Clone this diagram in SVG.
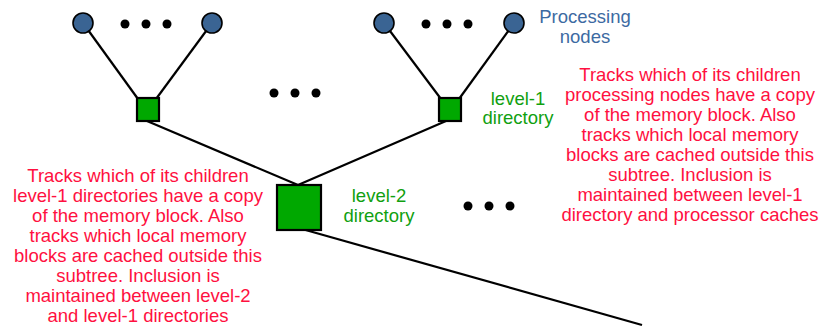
<svg xmlns="http://www.w3.org/2000/svg" width="822" height="329" viewBox="0 0 822 329">
<style>
.ln{stroke:#000;stroke-width:2.2;fill:none}
.pn{fill:#3a6493;stroke:#000;stroke-width:1.6}
.dir{fill:#00a800;stroke:#000;stroke-width:2.2}
.dot{fill:#000}
text{font-family:"Liberation Sans",Arial,sans-serif;font-size:18.5px;text-anchor:middle}
.red{fill:#ff1040}
.grn{fill:#10a010}
.blu{fill:#3d6aa2}
</style>
<rect width="822" height="329" fill="#fff"/>
<g id="connectors">
<line class="ln" x1="83" y1="23" x2="138" y2="99"/>
<line class="ln" x1="212" y1="23" x2="156" y2="99"/>
<line class="ln" x1="384" y1="23" x2="441" y2="99"/>
<line class="ln" x1="514" y1="23" x2="459" y2="99"/>
<line class="ln" x1="147" y1="121" x2="298" y2="185"/>
<line class="ln" x1="446" y1="121" x2="298" y2="185"/>
<line class="ln" x1="302" y1="229" x2="642" y2="325"/>
</g>
<g id="pn1"><circle class="pn" cx="83" cy="23" r="10"/></g>
<g id="pn2"><circle class="pn" cx="212" cy="23" r="10"/></g>
<g id="pn3"><circle class="pn" cx="384" cy="23" r="10"/></g>
<g id="pn4"><circle class="pn" cx="514" cy="23" r="10"/></g>
<g id="dots">
<circle class="dot" cx="125" cy="24" r="4.5"/>
<circle class="dot" cx="146" cy="24" r="4.5"/>
<circle class="dot" cx="167" cy="24" r="4.5"/>
<circle class="dot" cx="426" cy="24" r="4.5"/>
<circle class="dot" cx="447" cy="24" r="4.5"/>
<circle class="dot" cx="468" cy="24" r="4.5"/>
<circle class="dot" cx="274" cy="93" r="4.5"/>
<circle class="dot" cx="295" cy="93" r="4.5"/>
<circle class="dot" cx="316" cy="93" r="4.5"/>
<circle class="dot" cx="468" cy="206" r="4.5"/>
<circle class="dot" cx="489" cy="206" r="4.5"/>
<circle class="dot" cx="510" cy="206" r="4.5"/>
</g>
<g id="dir1a"><rect class="dir" x="137" y="98" width="22" height="23"/></g>
<g id="dir1b"><rect class="dir" x="439" y="98" width="22" height="23"/></g>
<g id="dir2"><rect class="dir" x="277" y="185" width="44" height="45"/></g>
<g id="lbl-pn">
<text class="blu" x="585" y="23">Processing</text>
<text class="blu" x="585" y="43">nodes</text>
</g>
<g id="lbl-l1">
<text class="grn" x="518" y="105">level-1</text>
<text class="grn" x="518" y="124">directory</text>
</g>
<g id="lbl-l2">
<text class="grn" x="379" y="202">level-2</text>
<text class="grn" x="379" y="222">directory</text>
</g>
<g id="note-l2">
<text class="red" x="138" y="182">Tracks which of its children</text>
<text class="red" x="138" y="202">level-1 directories have a copy</text>
<text class="red" x="138" y="222">of the memory block. Also</text>
<text class="red" x="138" y="242">tracks which local memory</text>
<text class="red" x="138" y="262">blocks are cached outside this</text>
<text class="red" x="138" y="282">subtree. Inclusion is</text>
<text class="red" x="138" y="302">maintained between level-2</text>
<text class="red" x="138" y="322">and level-1 directories</text>
</g>
<g id="note-l1">
<text class="red" x="690" y="81">Tracks which of its children</text>
<text class="red" x="690" y="101">processing nodes have a copy</text>
<text class="red" x="690" y="121">of the memory block. Also</text>
<text class="red" x="690" y="141">tracks which local memory</text>
<text class="red" x="690" y="161">blocks are cached outside this</text>
<text class="red" x="690" y="181">subtree. Inclusion is</text>
<text class="red" x="690" y="201">maintained between level-1</text>
<text class="red" x="690" y="221">directory and processor caches</text>
</g>
</svg>
